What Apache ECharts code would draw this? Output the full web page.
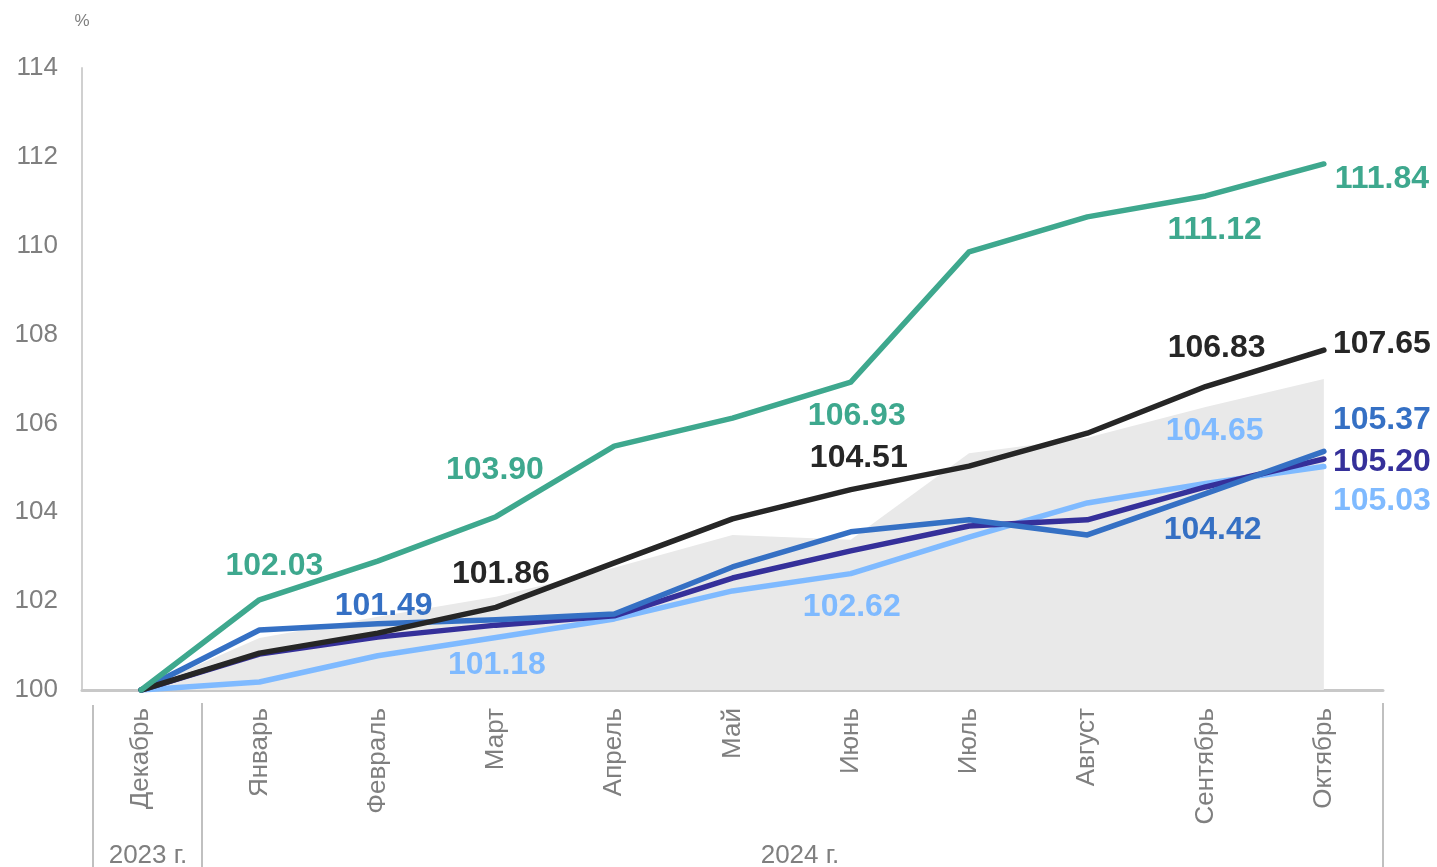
<!DOCTYPE html>
<html>
<head>
<meta charset="utf-8">
<script src="https://cdn.jsdelivr.net/npm/echarts@6/dist/echarts.min.js"></script>
<style>
  html, body { margin: 0; padding: 0; background: #fff; }
  #chart { width: 1437px; height: 867px; }
</style>
</head>
<body>
<div id="chart"></div>
<script>
// месяцы
var months = ['Декабрь', 'Январь', 'Февраль', 'Март', 'Апрель', 'Май', 'Июнь', 'Июль', 'Август', 'Сентябрь', 'Октябрь'];
var yearLabels = ['2023 г.', '2024 г.'];

// ряды, % к декабрю 2023
var greenVals  = [100, 102.03, 102.90, 103.90, 105.49, 106.12, 106.93, 109.86, 110.65, 111.12, 111.84];
var blackVals  = [100, 100.83, 101.28, 101.86, 102.86, 103.85, 104.51, 105.04, 105.78, 106.83, 107.65];
var blueVals   = [100, 101.35, 101.49, 101.58, 101.71, 102.77, 103.56, 103.83, 103.49, 104.42, 105.37];
var purpleVals = [100, 100.81, 101.19, 101.46, 101.67, 102.52, 103.13, 103.69, 103.83, 104.57, 105.20];
var lightVals  = [100, 100.18, 100.77, 101.18, 101.60, 102.23, 102.62, 103.44, 104.21, 104.65, 105.03];
var areaVals   = [100, 101.17, 101.65, 102.10, 102.75, 103.49, 103.38, 105.33, 105.68, 106.37, 107.00];

var yTicks = { min: 100, max: 114, interval: 2 };

var chart = echarts.init(document.getElementById('chart'));

// подписи отдельных точек: индекс -> смещение
function withLabels(vals, spots) {
    return vals.map(function (v, i) {
        if (spots[i]) {
            return { value: v, label: { show: true, offset: spots[i] } };
        }
        return v;
    });
}

function lineSeries(name, vals, color, spots, z) {
    return {
        name: name,
        type: 'line',
        data: withLabels(vals, spots),
        symbol: 'circle',
        symbolSize: 0,
        z: z,
        lineStyle: { color: color, width: 5.5, cap: 'round', join: 'round' },
        itemStyle: { color: color },
        label: {
            show: false,
            position: 'inside',
            color: color,
            fontSize: 32,
            fontWeight: 'bold',
            fontFamily: 'Liberation Sans, Arial, sans-serif',
            formatter: function (p) { return p.value.toFixed(2); }
        },
        emphasis: { disabled: true },
        animation: false
    };
}

var gray = '#7f7f7f';

var option = {
    backgroundColor: '#fff',
    textStyle: { fontFamily: 'Liberation Sans, Arial, sans-serif' },
    grid: { left: 82, right: 54, top: 68, bottom: 177, containLabel: false },
    xAxis: {
        type: 'category',
        data: months,
        boundaryGap: true,
        axisLine: { show: true, lineStyle: { color: '#c8c8c8', width: 3 } },
        axisTick: { show: false },
        axisLabel: { rotate: 90, fontSize: 26, color: gray, margin: 18 },
        splitLine: { show: false }
    },
    yAxis: {
        type: 'value',
        min: yTicks.min,
        max: yTicks.max,
        interval: yTicks.interval,
        name: '%',
        nameLocation: 'end',
        nameGap: 38,
        nameTextStyle: { color: gray, fontSize: 17, align: 'center' },
        axisLine: { show: true, lineStyle: { color: '#d0d0d0', width: 2 } },
        axisTick: { show: false },
        axisLabel: { fontSize: 26, color: gray, margin: 24 },
        splitLine: { show: false }
    },
    series: [
        {
            name: 'area',
            type: 'line',
            data: areaVals,
            symbol: 'none',
            z: 1,
            lineStyle: { width: 0 },
            areaStyle: { color: '#e9e9e9', opacity: 1 },
            emphasis: { disabled: true },
            animation: false
        },
        lineSeries('light', lightVals, '#7fbaff', { 3: [1, 28], 6: [1, 34], 9: [9, -52], 10: [58, 35] }, 2),
        lineSeries('purple', purpleVals, '#35309a', { 10: [58, 3] }, 3),
        lineSeries('blue', blueVals, '#3570c4', { 2: [6, -18], 9: [7, 37], 10: [58, -31] }, 4),
        lineSeries('black', blackVals, '#262626', { 3: [5, -33], 6: [8, -31], 9: [11, -38], 10: [58, -6] }, 5),
        lineSeries('green', greenVals, '#3ea88e', { 1: [15, -34], 3: [-1, -47], 6: [6, 34], 9: [9, 34], 10: [58, 15] }, 6)
    ],
    graphic: [
        { type: 'line', shape: { x1: 93, y1: 705, x2: 93, y2: 867 }, style: { stroke: '#c0c0c0', lineWidth: 2 } },
        { type: 'line', shape: { x1: 202, y1: 703, x2: 202, y2: 867 }, style: { stroke: '#c0c0c0', lineWidth: 2 } },
        { type: 'line', shape: { x1: 1383, y1: 703, x2: 1383, y2: 867 }, style: { stroke: '#c0c0c0', lineWidth: 2 } },
        { type: 'text', x: 148, y: 856, style: { text: yearLabels[0], fill: gray, fontSize: 26, align: 'center', verticalAlign: 'middle', fontFamily: 'Liberation Sans, Arial, sans-serif' } },
        { type: 'text', x: 800, y: 856, style: { text: yearLabels[1], fill: gray, fontSize: 26, align: 'center', verticalAlign: 'middle', fontFamily: 'Liberation Sans, Arial, sans-serif' } }
    ]
};

chart.setOption(option);
</script>
</body>
</html>
